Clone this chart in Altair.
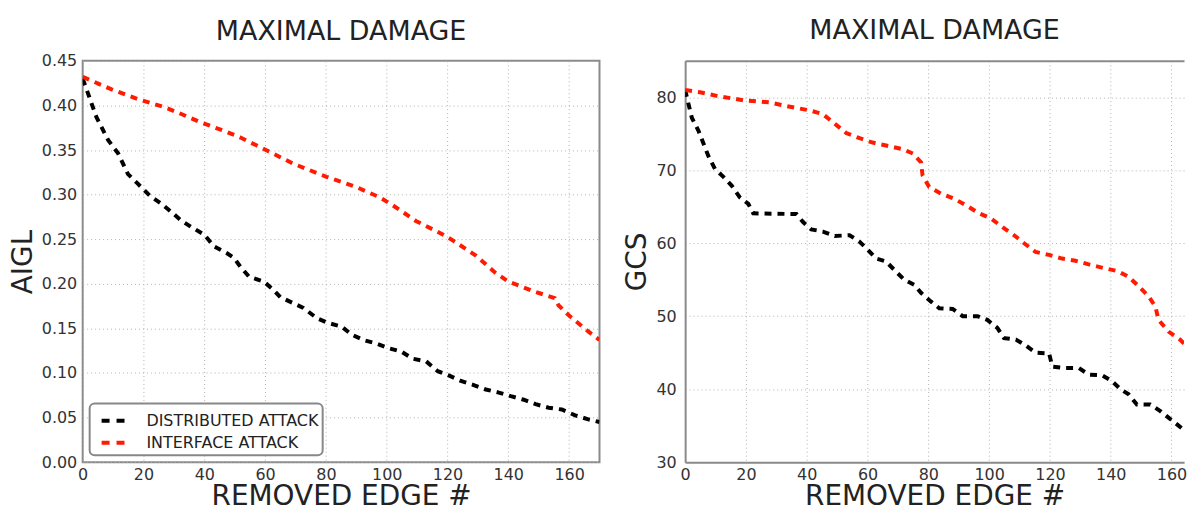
import altair as alt
import pandas as pd

SERIES = ["DISTRIBUTED ATTACK", "INTERFACE ATTACK"]
X_TICKS = [0, 20, 40, 60, 80, 100, 120, 140, 160]

# Left panel: AIGL
aigl_dist_x = [0, 1.8, 4.5, 8.4, 11.7, 14.9, 18.2, 22, 25.8, 29, 32.4, 35.6, 40, 43.2, 47.6, 49.8, 51.9, 54.7,
               59.6, 62.8, 65, 72.6, 77, 80.8, 85.2, 88.5, 92.3, 96.6, 100.4, 104.8, 108.6, 113, 116.8, 120.6,
               124.4, 128.2, 132.6, 136.9, 140.8, 145.1, 149, 153.3, 157.6, 162, 166.3, 170]
aigl_dist_y = [0.430, 0.413, 0.387, 0.361, 0.346, 0.323, 0.312, 0.299, 0.290, 0.281, 0.271, 0.264, 0.255, 0.242,
               0.234, 0.229, 0.219, 0.208, 0.2025, 0.193, 0.185, 0.173, 0.1615, 0.156, 0.152, 0.143, 0.137, 0.133,
               0.128, 0.124, 0.116, 0.113, 0.102, 0.097, 0.091, 0.087, 0.0815, 0.078, 0.074, 0.070, 0.065, 0.061,
               0.059, 0.0525, 0.048, 0.045]
aigl_intf_x = [0, 9.5, 18.2, 26.9, 31.3, 38.9, 47.6, 51.9, 57.3, 60.6, 65, 69.3, 80.2, 90, 97.7, 102, 109.6, 117.8,
               121.6, 129.2, 135.7, 140, 148.8, 155.3, 156.5, 159.8, 166.3, 170]
aigl_intf_y = [0.432, 0.418, 0.407, 0.398, 0.392, 0.381, 0.370, 0.364, 0.355, 0.3495, 0.342, 0.3346, 0.320, 0.3085,
               0.297, 0.288, 0.2705, 0.2565, 0.249, 0.232, 0.2125, 0.2025, 0.191, 0.184, 0.176, 0.165, 0.1466, 0.137]

# Right panel: GCS
gcs_dist_x = [0, 2.2, 4.4, 7.6, 9.8, 12.6, 15.3, 18, 20.8, 22.4, 36.6, 38.8, 41.5, 45.3, 49.2, 54.1, 57.4, 60.1,
              62.8, 66.1, 69.4, 72.1, 75.4, 77.6, 80.9, 83.6, 88, 91.3, 96.2, 99.4, 102.7, 104.9, 108.8, 112, 115.3,
              119.7, 120.8, 125.2, 129.5, 132.8, 137.2, 140.4, 143.2, 145.9, 148.6, 153, 156.3, 159, 162.3, 165,
              167.5, 170]
gcs_dist_y = [81, 77.2, 75.4, 72, 70.2, 69.1, 67.9, 66.3, 65.4, 64.1, 64, 62.9, 61.9, 61.6, 61, 61.1, 60.2, 59.1,
              57.9, 57.5, 56.1, 55, 54.3, 53.2, 52, 51.1, 51, 50, 50, 49.5, 48.4, 47, 46.8, 46, 45, 44.9, 43.1,
              42.9, 42.9, 42, 41.9, 41.1, 40, 39.3, 37.9, 37.9, 37, 36.1, 35, 34.1, 33.4, 32.6]
gcs_intf_x = [0, 4.9, 10.4, 19.1, 27.9, 33.3, 41, 45.3, 48.6, 53, 57.4, 61.7, 66.1, 71.6, 74.9, 77.6, 78.1, 80.3,
              84.2, 88.5, 92.4, 96.7, 100.6, 104.4, 108.2, 111.5, 115.3, 119.7, 124, 128.4, 132.8, 137.7, 142.1,
              145.9, 149.2, 152.5, 154.7, 155.7, 159, 162.8, 166.1, 167.5, 170]
gcs_intf_y = [81, 80.7, 80.2, 79.6, 79.3, 78.8, 78.2, 77.7, 76.6, 75.1, 74.4, 73.8, 73.4, 72.9, 72.3, 71.1, 69.3,
              67.7, 66.8, 66.1, 65.2, 64.1, 63.4, 62.2, 61.1, 60, 58.8, 58.4, 57.9, 57.6, 57.1, 56.6, 56.2, 55.4,
              54.1, 52.7, 51.3, 49.5, 47.9, 46.8, 45.4, 43.6, 41]


def frame(xd, yd, xi, yi):
    return pd.concat([
        pd.DataFrame({"edge": xd, "value": yd, "series": SERIES[0]}),
        pd.DataFrame({"edge": xi, "value": yi, "series": SERIES[1]}),
    ], ignore_index=True)


FONT = "DejaVu Sans"
SPINE = "#8a8a8a"

LEGEND = alt.Legend(title=None, orient="bottom-left", offset=7,
                    symbolType="stroke", symbolStrokeWidth=4, symbolDash=[8, 7],
                    symbolSize=529, symbolOffset=6, labelFontSize=16, labelFont=FONT,
                    labelColor="#222", labelOffset=20, labelLimit=400, strokeColor="#888",
                    fillColor="white", padding=4, cornerRadius=5, rowPadding=0)


def lines(df, xmax, ytitle, ydomain, yticks, yfmt, label_pad, spine_axes):
    return alt.Chart(df).mark_line(strokeWidth=4, strokeDash=[7, 6], clip=True).encode(
        x=alt.X("edge:Q", scale=alt.Scale(domain=[0, xmax], nice=False, zero=False),
                axis=alt.Axis(values=X_TICKS, format="d", title="REMOVED EDGE #", labelFlush=False,
                              labelPadding=4, titlePadding=1, domain=spine_axes,
                              domainColor=SPINE, domainWidth=2)),
        y=alt.Y("value:Q", scale=alt.Scale(domain=ydomain, nice=False, zero=False),
                axis=alt.Axis(values=yticks, format=yfmt, title=ytitle, labelPadding=label_pad,
                              titlePadding=4, labelFlush=False, domain=spine_axes,
                              domainColor=SPINE, domainWidth=2)),
        color=alt.Color("series:N", scale=alt.Scale(domain=SERIES, range=["#000000", "#ff1a00"]),
                        legend=LEGEND),
    )


left = lines(frame(aigl_dist_x, aigl_dist_y, aigl_intf_x, aigl_intf_y), 170, "AIGL", [0, 0.45],
             [0, 0.05, 0.1, 0.15, 0.2, 0.25, 0.3, 0.35, 0.4, 0.45], ".2f", 6, False).properties(
    width=519, height=403,
    title=alt.TitleParams("MAXIMAL DAMAGE", offset=7),
)

# right panel: cut off at the page edge, so its right spine is not shown
RIGHT_WIDTH = 501
RIGHT_XMAX = 164.1
right_lines = lines(frame(gcs_dist_x, gcs_dist_y, gcs_intf_x, gcs_intf_y), RIGHT_XMAX, "GCS", [30, 85],
                    [30, 40, 50, 60, 70, 80], "d", 9, True)
top_spine = alt.Chart(pd.DataFrame({"edge": [0, RIGHT_XMAX]})).mark_point(opacity=0).encode(
    x=alt.X("edge:Q", scale=alt.Scale(domain=[0, RIGHT_XMAX], nice=False, zero=False),
            axis=alt.Axis(orient="top", labels=False, ticks=False, grid=False, title=None,
                          domain=True, domainColor=SPINE, domainWidth=2)),
)
right = alt.layer(right_lines, top_spine).resolve_axis(x="independent").properties(
    width=RIGHT_WIDTH, height=403,
    title=alt.TitleParams("MAXIMAL DAMAGE", offset=16),
    view=alt.ViewBackground(stroke="transparent"),
)

chart = alt.hconcat(left, right, spacing=22).properties(
    padding={"left": 0, "top": 7, "right": 0, "bottom": 0}
).configure_view(
    stroke=SPINE, strokeWidth=2
).configure_axis(
    grid=True, gridColor="#b0b0b0", gridDash=[1, 3], gridWidth=1,
    ticks=False,
    labelFont=FONT, labelFontSize=16, labelColor="#333",
    titleFont=FONT, titleFontSize=28, titleFontWeight="normal", titleColor="#222",
).configure_title(
    font=FONT, fontSize=27, fontWeight="normal", color="#222", anchor="middle"
).configure_legend(
    strokeWidth=2
)

chart.save("out.html", embed_options={"renderer": "svg", "actions": False})
